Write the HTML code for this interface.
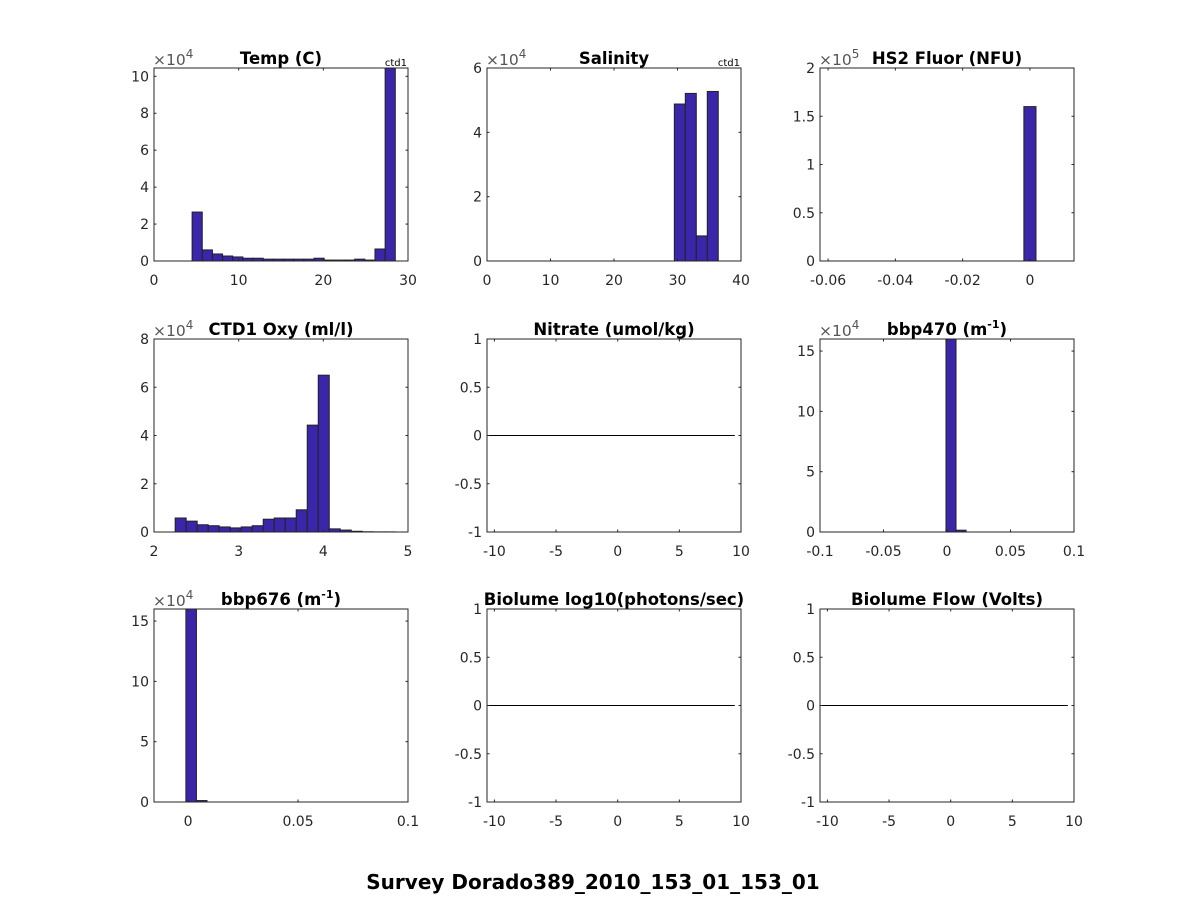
<!DOCTYPE html>
<html><head><meta charset="utf-8"><style>
body{margin:0;background:#fff;}
svg{display:block;font-family:"DejaVu Sans","Liberation Sans",sans-serif;}
</style></head><body>
<svg id="fig" width="1188" height="900"></svg>
<script>
// ---- data ----
const tempEdges0 = 4.5, tempBinW = 1.2;
const tempCounts = [2.65,0.6,0.38,0.27,0.22,0.15,0.15,0.1,0.1,0.1,0.1,0.1,0.15,0.05,0.05,0.05,0.1,0.05,0.65,10.5];
const salEdges0 = 29.5, salBinW = 1.73;
const salCounts = [4.88,5.21,0.78,5.27];
const fluorEdges0 = -0.0018, fluorBinW = 0.0036;
const fluorCounts = [1.6];
const oxyEdges0 = 2.25, oxyBinW = 0.13;
const oxyCounts = [0.58,0.45,0.3,0.26,0.21,0.17,0.21,0.26,0.53,0.58,0.58,0.92,4.43,6.5,0.13,0.08,0.03,0.01,0.005,0.005];
const bbp470Edges0 = -0.0008, bbp470BinW = 0.0079;
const bbp470Counts = [16.5,0.15];
const bbp676Edges0 = -0.001, bbp676BinW = 0.0048;
const bbp676Counts = [16.5,0.12];
const emptyTicksX = [-10,-5,0,5,10];
const emptyTicksY = [-1,-0.5,0,0.5,1];

const panels = [
 {name:'temp',title:'Temp (C)',x:154,y:68,xl:[0,30],yl:[0,10.45],xt:[0,10,20,30],yt:[0,2,4,6,8,10],exp:'4',ctd:true,e0:tempEdges0,bw:tempBinW,c:tempCounts},
 {name:'salinity',title:'Salinity',x:487,y:68,xl:[0,40],yl:[0,6],xt:[0,10,20,30,40],yt:[0,2,4,6],exp:'4',ctd:true,e0:salEdges0,bw:salBinW,c:salCounts},
 {name:'hs2-fluor',title:'HS2 Fluor (NFU)',x:820,y:68,xl:[-0.0624,0.0131],yl:[0,2],xt:[-0.06,-0.04,-0.02,0],yt:[0,0.5,1,1.5,2],exp:'5',e0:fluorEdges0,bw:fluorBinW,c:fluorCounts},
 {name:'ctd1-oxy',title:'CTD1 Oxy (ml/l)',x:154,y:339,xl:[2,5],yl:[0,8],xt:[2,3,4,5],yt:[0,2,4,6,8],exp:'4',e0:oxyEdges0,bw:oxyBinW,c:oxyCounts},
 {name:'nitrate',title:'Nitrate (umol/kg)',x:487,y:339,empty:true},
 {name:'bbp470',title:'bbp470 (m',sup:true,x:820,y:339,xl:[-0.1,0.1],yl:[0,16],xt:[-0.1,-0.05,0,0.05,0.1],yt:[0,5,10,15],exp:'4',e0:bbp470Edges0,bw:bbp470BinW,c:bbp470Counts},
 {name:'bbp676',title:'bbp676 (m',sup:true,x:154,y:609,xl:[-0.0155,0.1],yl:[0,16],xt:[0,0.05,0.1],yt:[0,5,10,15],exp:'4',e0:bbp676Edges0,bw:bbp676BinW,c:bbp676Counts},
 {name:'biolume',title:'Biolume log10(photons/sec)',x:487,y:609,empty:true},
 {name:'biolume-flow',title:'Biolume Flow (Volts)',x:820,y:609,empty:true}
];
const W=254,H=193;
const NS='http://www.w3.org/2000/svg';
const fig=document.getElementById('fig');
function mk(tag,attrs,parent){const e=document.createElementNS(NS,tag);for(const k in attrs)e.setAttribute(k,attrs[k]);(parent||fig).appendChild(e);return e;}
function fmt(v){return String(Math.round(v*1000)/1000);}
panels.forEach(p=>{
  const g=mk('g',{});
  
  
  let xl=p.xl,yl=p.yl,xt=p.xt,yt=p.yt;
  if(p.empty){xl=[-10.6,10];yl=[-1,1];xt=emptyTicksX;yt=emptyTicksY;}
  const sx=v=>p.x+(v-xl[0])/(xl[1]-xl[0])*W;
  const sy=v=>p.y+H-(v-yl[0])/(yl[1]-yl[0])*H;
  mk('rect',{x:p.x,y:p.y,width:W,height:H,fill:'#fff'},g);
  if(!p.empty){
    p.c.forEach((v,i)=>{
      const vv=Math.min(v,yl[1]);
      const x0=sx(p.e0+i*p.bw),x1=sx(p.e0+(i+1)*p.bw);
      const r=mk('rect',{x:x0,y:sy(vv),width:x1-x0,height:sy(0)-sy(vv),fill:'#3a26a8',stroke:'#222','stroke-width':1},g);
      
      
    });
  } else {
    const l=mk('line',{x1:sx(-10.6),x2:sx(9.5),y1:sy(0),y2:sy(0),stroke:'#000','stroke-width':1},g);
    
    
  }
  mk('rect',{x:p.x,y:p.y,width:W,height:H,fill:'none',stroke:'#262626','stroke-width':1},g);
  xt.forEach(t=>{
    const x=sx(t);
    mk('line',{x1:x,x2:x,y1:p.y+H,y2:p.y+H-2.5,stroke:'#262626'},g);
    mk('line',{x1:x,x2:x,y1:p.y,y2:p.y+2.5,stroke:'#262626'},g);
    const tx=mk('text',{x:x,y:p.y+H+24,'text-anchor':'middle','font-size':14,fill:'#262626'},g);
    tx.textContent=fmt(t);
    
    
  });
  yt.forEach(t=>{
    const y=sy(t);
    mk('line',{x1:p.x,x2:p.x+2.5,y1:y,y2:y,stroke:'#262626'},g);
    mk('line',{x1:p.x+W,x2:p.x+W-2.5,y1:y,y2:y,stroke:'#262626'},g);
    const tx=mk('text',{x:p.x-5,y:y+5,'text-anchor':'end','font-size':14,fill:'#262626'},g);
    tx.textContent=fmt(t);
    
    
  });
  const tt=mk('text',{x:p.x+W/2,y:p.y-4,'text-anchor':'middle','font-size':16.5,'font-weight':'bold',fill:'#000'},g);
  
  
  if(p.sup){
    tt.textContent=p.title;
    const s=mk('tspan',{dy:-7,'font-size':11},tt);s.textContent='-1';
    const s2=mk('tspan',{dy:7},tt);s2.textContent=')';
  } else tt.textContent=p.title;
  if(p.exp){
    const e=mk('text',{x:p.x-1,y:p.y-3,'font-size':15.5,fill:'#555'},g);
    e.textContent='×10';
    const s=mk('tspan',{dy:-7,'font-size':12},e);s.textContent=p.exp;
    
    
  }
  if(p.ctd){
    const c=mk('text',{x:p.x+W-1,y:p.y-2,'text-anchor':'end','font-size':10,fill:'#000'},g);
    c.textContent='ctd1';
    
    
  }
});
const st=mk('text',{x:593,y:889,'text-anchor':'middle','font-size':20,'font-weight':'bold',fill:'#000'});
st.textContent='Survey Dorado389_2010_153_01_153_01';


</script>
</body></html>
